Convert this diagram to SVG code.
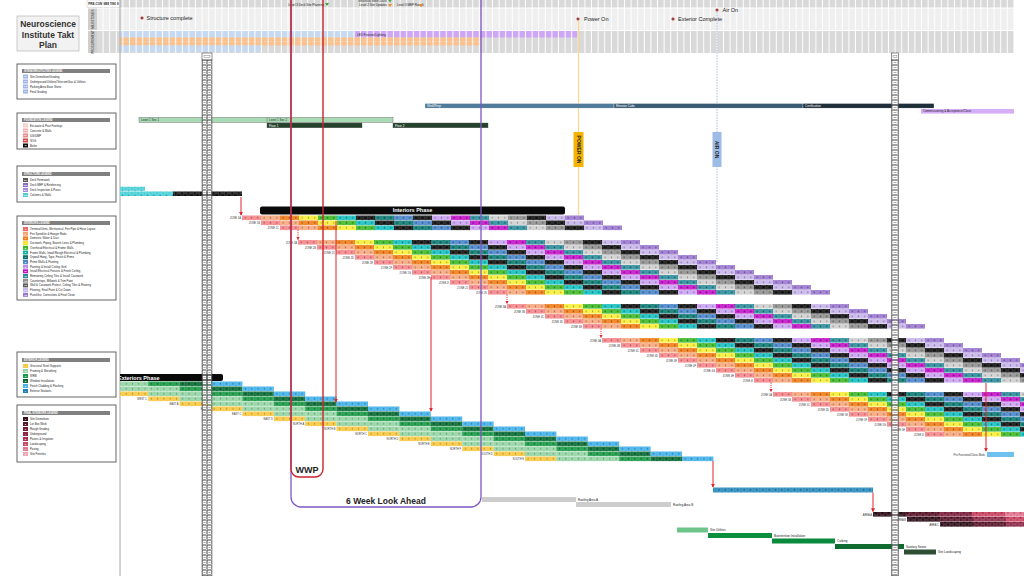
<svg xmlns="http://www.w3.org/2000/svg" width="1024" height="576" viewBox="0 0 1024 576">
<style>
text{font-family:'Liberation Sans',Arial,sans-serif}
.t3{font-size:3px;fill:#222}
.tw{font-size:3px;fill:#fff}
.zl{font-size:2.6px;fill:#333;text-anchor:end}
.ms{font-size:5.5px;fill:#222}
.lb{fill:#fff;stroke:#555;stroke-width:.9}
.lh{fill:#808080}
.lt{font-size:2.8px;fill:#222}
.lht{font-size:2.6px;fill:#fff;font-weight:bold}
.sq{font-size:2.4px;fill:#fff;text-anchor:middle;font-weight:bold}
.red{stroke:#e0262c;stroke-width:1;fill:none}
.rdot{stroke:#e0262c;stroke-width:.9;fill:none;stroke-dasharray:1.2 1}
.bar{stroke:#fff;stroke-width:.3}
</style>
<defs>
<pattern id="gp" x="97" y="0" width="6.6" height="60" patternUnits="userSpaceOnUse"><rect x="5.6" width="1" height="60" fill="#fff"/></pattern>
<pattern id="ps" width="6.333" height="4.6" patternUnits="userSpaceOnUse"><rect x=".9" y=".8" width="4.5" height="3" fill="none" stroke="#fff" stroke-opacity=".55" stroke-width=".35"/><rect x="2.7" y="1.5" width=".9" height="1.6" fill="#000" fill-opacity=".35"/></pattern>
<pattern id="pe" width="6.28" height="4.6" patternUnits="userSpaceOnUse"><rect x=".9" y=".8" width="4.4" height="3" fill="none" stroke="#fff" stroke-opacity=".5" stroke-width=".35"/><rect x="2.7" y="1.5" width=".9" height="1.6" fill="#000" fill-opacity=".3"/></pattern>
<pattern id="sc" x="202" y="60" width="5" height="5" patternUnits="userSpaceOnUse"><rect x=".4" y=".4" width="4.2" height="4.2" fill="#fff" stroke="#444" stroke-width=".5"/><rect x="1.4" y="2.2" width="2.2" height=".6" fill="#777"/></pattern>
<pattern id="sc2" x="891.5" y="60" width="7" height="5" patternUnits="userSpaceOnUse"><rect x=".4" y=".4" width="6.2" height="4.2" fill="#fff" stroke="#444" stroke-width=".5"/><rect x="2" y="2.2" width="3" height=".6" fill="#777"/></pattern>
<marker id="ah" viewBox="0 0 6 6" refX="5" refY="3" markerWidth="4" markerHeight="4" orient="auto"><path d="M0,0L6,3L0,6z" fill="#e0262c"/></marker>
<polygon id="star" points="0,-2.2 .7,-.7 2.2,0 .7,.7 0,2.2 -.7,.7 -2.2,0 -.7,-.7" fill="#9b2a2a"/>
<path id="tri" d="M-2,-1.6H2L0,1.6z"/>
<g id="ir">
<rect x="0" width="19" height="4.6" fill="#f4868a"/><rect x="19" width="19" height="4.6" fill="#f6a77e"/><rect x="38" width="19" height="4.6" fill="#ef7d1a"/><rect x="57" width="19" height="4.6" fill="#f7ee3a"/><rect x="76" width="19" height="4.6" fill="#3fb82a"/><rect x="95" width="19" height="4.6" fill="#17bfc0"/><rect x="114" width="19" height="4.6" fill="#111"/><rect x="133" width="19" height="4.6" fill="#0f7b73"/><rect x="152" width="19" height="4.6" fill="#4a86c9"/><rect x="171" width="19" height="4.6" fill="#111"/><rect x="190" width="19" height="4.6" fill="#c9a3f2"/><rect x="209" width="19" height="4.6" fill="#c114c6"/><rect x="228" width="19" height="4.6" fill="#2e8c9a"/><rect x="247" width="19" height="4.6" fill="#cfcfcf"/><rect x="266" width="19" height="4.6" fill="#8f8f8f"/><rect x="285" width="19" height="4.6" fill="#111"/><rect x="304" width="19" height="4.6" fill="#c7b5ea"/><rect x="323" width="19" height="4.6" fill="#9a78cf"/>
<rect width="342" height="4.6" fill="url(#ps)"/>
</g>
<g id="er">
<rect x="0" width="31.4" height="4.6" fill="#f8c843"/><rect x="31.4" width="31.4" height="4.6" fill="#95d5a5"/><rect x="62.8" width="31.4" height="4.6" fill="#95d5a5"/><rect x="94.2" width="31.4" height="4.6" fill="#1d9a48"/><rect x="125.6" width="31.4" height="4.6" fill="#0b6b35"/><rect x="157" width="31.4" height="4.6" fill="#45b2ea"/>
<rect width="188.4" height="4.6" fill="url(#pe)"/>
</g>
<clipPath id="cc"><rect x="120" y="0" width="904" height="576"/></clipPath>
</defs>
<rect width="1024" height="576" fill="#fff"/>

<g id="header">
<rect x="87" y="0" width="33" height="7.5" fill="#fff" stroke="#bbb" stroke-width=".4"/>
<text x="103.5" y="5" class="t3" text-anchor="middle" font-weight="bold" font-size="2.8">PRE-CON MEETINGS</text>
<rect x="120" y="0" width="894" height="7.5" fill="#d9d9d9"/>
<rect x="97" y="8.5" width="917" height="21.5" fill="#efefef"/>
<rect x="97" y="31" width="917" height="22" fill="#d9d9d9"/>
<rect x="120" y="31" width="235" height="6.5" fill="#c6d9f0"/>
<rect x="355" y="31" width="222" height="6.5" fill="#cda6f6"/>
<rect x="120" y="37.5" width="361" height="8" fill="#fac18f"/>
<line x1="120" y1="41.5" x2="481" y2="41.5" stroke="#fff" stroke-opacity=".6" stroke-width=".5" stroke-dasharray="1.5 1.5"/>
<rect x="120" y="45.5" width="140" height="6.5" fill="#c6d9f0"/>
<rect x="97" y="0" width="917" height="53" fill="url(#gp)"/>
<rect x="88" y="8.5" width="9" height="21.5" fill="#cfcfcf"/>
<rect x="88" y="31" width="9" height="22" fill="#cfcfcf"/>
<text transform="translate(93.5,19.2) rotate(-90)" class="t3" font-size="2.6" text-anchor="middle">MILESTONES</text>
<text transform="translate(93.5,42) rotate(-90)" class="t3" font-size="2.6" text-anchor="middle">PROCUREMENT</text>
<text x="357" y="35.8" class="t3" font-size="2.8">LED Fixtures/Lighting</text>
<text x="324" y="5.8" class="t3" font-size="2.8" text-anchor="end">Level 3 Deck Site Planning</text>
<use href="#tri" x="327" y="4.5" fill="#3aa83a"/>
<text x="387" y="1.8" class="t3" font-size="2.8" text-anchor="end">Structural Steel 100%</text>
<use href="#tri" x="390" y="1" fill="#3aa83a"/>
<text x="387" y="6.3" class="t3" font-size="2.8" text-anchor="end">Level 2 Site Updates</text>
<use href="#tri" x="390" y="5.5" fill="#f08a24"/>
<text x="397" y="6.3" class="t3" font-size="2.8">Level 3 MEP Rough</text>
<use href="#tri" x="421" y="5.5" fill="#f08a24"/>
<use href="#star" x="142" y="18"/>
<text x="146.5" y="20" class="ms">Structure complete</text>
<use href="#star" x="578" y="19"/>
<text x="584" y="21" class="ms">Power On</text>
<use href="#star" x="673" y="19"/>
<text x="678" y="21" class="ms">Exterior Complete</text>
<use href="#star" x="717" y="10"/>
<text x="722.5" y="12" class="ms">Air On</text>
</g>

<line x1="120" y1="0" x2="120" y2="576" stroke="#a6a6a6" stroke-width="1"/>

<g id="title">
<rect x="17" y="16" width="62" height="35" fill="#f2f2f2" stroke="#bfbfbf" stroke-width=".8"/>
<text x="48" y="27" text-anchor="middle" font-size="8.5" font-weight="bold" fill="#333">Neuroscience</text>
<text x="48" y="37.5" text-anchor="middle" font-size="8.5" font-weight="bold" fill="#333">Institute Takt</text>
<text x="48" y="47.5" text-anchor="middle" font-size="8.5" font-weight="bold" fill="#333">Plan</text>
</g>

<g id="legend-site">
<rect class="lb" x="17" y="64" width="99" height="35"/>
<rect class="lh" x="22" y="69" width="88" height="4"/><text class="lht" x="24" y="72">SITEWORK/UTILITIES LEGEND</text>
<rect x="23" y="74.5" width="5" height="4" fill="#9fb4ea"/><text class="sq" x="25.5" y="77.4">SG</text><text class="lt" x="30" y="77.5">Site Demolition/Grading</text>
<rect x="23" y="79.5" width="5" height="4" fill="#9fb4ea"/><text class="sq" x="25.5" y="82.4">UG</text><text class="lt" x="30" y="82.5">Underground Utilities/Telecom/Gas &amp; Utilities</text>
<rect x="23" y="84.5" width="5" height="4" fill="#9fb4ea"/><text class="sq" x="25.5" y="87.4">PB</text><text class="lt" x="30" y="87.5">Parking Area Base Stone</text>
<rect x="23" y="89.5" width="5" height="4" fill="#9fb4ea"/><text class="sq" x="25.5" y="92.4">FG</text><text class="lt" x="30" y="92.5">Final Grading</text>
</g>

<g id="legend-foundation">
<rect class="lb" x="17" y="113" width="99" height="36"/>
<rect class="lh" x="22" y="118" width="88" height="4"/><text class="lht" x="24" y="121">FOUNDATION LEGEND</text>
<rect x="23" y="123.5" width="5" height="4" fill="#f6cccc"/><text class="sq" x="25.5" y="126.4">FT</text><text class="lt" x="30" y="126.5">Excavate &amp; Pour Footings</text>
<rect x="23" y="128.5" width="5" height="4" fill="#f0b0b0"/><text class="sq" x="25.5" y="131.4">CW</text><text class="lt" x="30" y="131.5">Concrete &amp; Walls</text>
<rect x="23" y="133.5" width="5" height="4" fill="#e88a8a"/><text class="sq" x="25.5" y="136.4">UG</text><text class="lt" x="30" y="136.5">UG/UMP</text>
<rect x="23" y="138.5" width="5" height="4" fill="#d94848"/><text class="sq" x="25.5" y="141.4">SG</text><text class="lt" x="30" y="141.5">SOG</text>
<rect x="23" y="143.5" width="5" height="4" fill="#111"/><text class="sq" x="25.5" y="146.4">B</text><text class="lt" x="30" y="146.5">Boiler</text>
</g>

<g id="legend-structure">
<rect class="lb" x="17" y="166" width="99" height="36"/>
<rect class="lh" x="22" y="172" width="88" height="4"/><text class="lht" x="24" y="175">STRUCTURE LEGEND</text>
<rect x="23" y="178" width="5" height="4" fill="#5a5a5a"/><text class="sq" x="25.5" y="180.9">DF</text><text class="lt" x="30" y="181">Deck Formwork</text>
<rect x="23" y="183" width="5" height="4" fill="#8c6cc8"/><text class="sq" x="25.5" y="185.9">DM</text><text class="lt" x="30" y="186">Deck MEP &amp; Reinforcing</text>
<rect x="23" y="188" width="5" height="4" fill="#a98ddc"/><text class="sq" x="25.5" y="190.9">DP</text><text class="lt" x="30" y="191">Deck Inspection &amp; Pours</text>
<rect x="23" y="193" width="5" height="4" fill="#4ccdd2"/><text class="sq" x="25.5" y="195.9">CW</text><text class="lt" x="30" y="196">Columns &amp; Walls</text>
</g>

<g id="legend-interiors">
<rect class="lb" x="17" y="216" width="99" height="84"/>
<rect class="lh" x="22" y="221" width="88" height="4"/><text class="lht" x="24" y="224">INTERIORS LEGEND</text>
<rect x="23" y="227" width="5" height="4" fill="#f06a6a"/><text class="sq" x="25.5" y="229.9">1</text><text class="lt" x="30" y="230">Terminal Units, Mechanical, Fire Pipe &amp; Hose Layout</text>
<rect x="23" y="231.7" width="5" height="4" fill="#f5a070"/><text class="sq" x="25.5" y="234.6">2</text><text class="lt" x="30" y="234.7">Fire Sprinkler &amp; Hanger Rods</text>
<rect x="23" y="236.4" width="5" height="4" fill="#ef7d1a"/><text class="sq" x="25.5" y="239.3">3</text><text class="lt" x="30" y="239.4">Domestic Water &amp; Duct</text>
<rect x="23" y="241.1" width="5" height="4" fill="#f5e52a"/><text class="sq" x="25.5" y="244" fill="#333">4</text><text class="lt" x="30" y="244.1">Ductwork, Piping, Branch Lines &amp; Plumbing</text>
<rect x="23" y="245.8" width="5" height="4" fill="#3fb82a"/><text class="sq" x="25.5" y="248.7">5</text><text class="lt" x="30" y="248.8">Overhead Electrical &amp; Frame Walls</text>
<rect x="23" y="250.5" width="5" height="4" fill="#12b5a0"/><text class="sq" x="25.5" y="253.4">6</text><text class="lt" x="30" y="253.5">Frame Walls, Inwall Rough Electrical &amp; Plumbing</text>
<rect x="23" y="255.2" width="5" height="4" fill="#0f6f6a"/><text class="sq" x="25.5" y="258.1">7</text><text class="lt" x="30" y="258.2">Drywall Hang, Tape, Finish &amp; Prime</text>
<rect x="23" y="259.9" width="5" height="4" fill="#4a86c9"/><text class="sq" x="25.5" y="262.8">8</text><text class="lt" x="30" y="262.9">Prime Walls &amp; Painting</text>
<rect x="23" y="264.6" width="5" height="4" fill="#b491e6"/><text class="sq" x="25.5" y="267.5">9</text><text class="lt" x="30" y="267.6">Painting &amp; Install Ceiling Grid</text>
<rect x="23" y="269.3" width="5" height="4" fill="#c114c6"/><text class="sq" x="25.5" y="272.2">10</text><text class="lt" x="30" y="272.3">Install Electrical Fixtures &amp; Finish Ceiling</text>
<rect x="23" y="274" width="5" height="4" fill="#2e8c9a"/><text class="sq" x="25.5" y="276.9">11</text><text class="lt" x="30" y="277">Remaining Ceiling Tiles &amp; Install Casework</text>
<rect x="23" y="278.7" width="5" height="4" fill="#8f8f8f"/><text class="sq" x="25.5" y="281.6">12</text><text class="lt" x="30" y="281.7">Countertops, Millwork &amp; Trim Paint</text>
<rect x="23" y="283.4" width="5" height="4" fill="#5c5c5c"/><text class="sq" x="25.5" y="286.3">13</text><text class="lt" x="30" y="286.4">Wall &amp; Casework Protect, Ceiling Tiles &amp; Flooring</text>
<rect x="23" y="288.1" width="5" height="4" fill="#c7b5ea"/><text class="sq" x="25.5" y="291">14</text><text class="lt" x="30" y="291.1">Flooring, Final Paint &amp; Cut Down</text>
<rect x="23" y="292.8" width="5" height="4" fill="#9a78cf"/><text class="sq" x="25.5" y="295.7">15</text><text class="lt" x="30" y="295.8">Punchlist, Corrections &amp; Final Clean</text>
</g>

<g id="legend-exterior">
<rect class="lb" x="17" y="352" width="99" height="45"/>
<rect class="lh" x="22" y="358" width="88" height="4"/><text class="lht" x="24" y="361">EXTERIOR LEGEND</text>
<rect x="23" y="364" width="5" height="4" fill="#f8c843"/><text class="sq" x="25.5" y="366.9" fill="#333">A</text><text class="lt" x="30" y="367">Structural Steel Supports</text>
<rect x="23" y="369" width="5" height="4" fill="#95d5a5"/><text class="sq" x="25.5" y="371.9" fill="#333">B</text><text class="lt" x="30" y="372">Framing &amp; Sheathing</text>
<rect x="23" y="374" width="5" height="4" fill="#1d9a48"/><text class="sq" x="25.5" y="376.9">C</text><text class="lt" x="30" y="377">WRB</text>
<rect x="23" y="379" width="5" height="4" fill="#0b6b35"/><text class="sq" x="25.5" y="381.9">D</text><text class="lt" x="30" y="382">Window Installation</text>
<rect x="23" y="384" width="5" height="4" fill="#45b2ea"/><text class="sq" x="25.5" y="386.9">E</text><text class="lt" x="30" y="387">Finish Cladding &amp; Flashing</text>
<rect x="23" y="389" width="5" height="4" fill="#1f7fb4"/><text class="sq" x="25.5" y="391.9">F</text><text class="lt" x="30" y="392">Exterior Sealants</text>
</g>

<g id="legend-sitefinal">
<rect class="lb" x="17" y="405" width="99" height="57"/>
<rect class="lh" x="22" y="411" width="88" height="4"/><text class="lht" x="24" y="414">FINAL SITEWORK LEGEND</text>
<rect x="23" y="417" width="5" height="4" fill="#3a0c1a"/><text class="sq" x="25.5" y="419.9">1</text><text class="lt" x="30" y="420">Site Demolition</text>
<rect x="23" y="422" width="5" height="4" fill="#561427"/><text class="sq" x="25.5" y="424.9">2</text><text class="lt" x="30" y="425">Lot Box Work</text>
<rect x="23" y="427" width="5" height="4" fill="#741c37"/><text class="sq" x="25.5" y="429.9">3</text><text class="lt" x="30" y="430">Rough Grading</text>
<rect x="23" y="432" width="5" height="4" fill="#8c2444"/><text class="sq" x="25.5" y="434.9">4</text><text class="lt" x="30" y="435">Underground</text>
<rect x="23" y="437" width="5" height="4" fill="#a83050"/><text class="sq" x="25.5" y="439.9">5</text><text class="lt" x="30" y="440">Pavers &amp; Irrigation</text>
<rect x="23" y="442" width="5" height="4" fill="#c84868"/><text class="sq" x="25.5" y="444.9">6</text><text class="lt" x="30" y="445">Landscaping</text>
<rect x="23" y="447" width="5" height="4" fill="#e07890"/><text class="sq" x="25.5" y="449.9">7</text><text class="lt" x="30" y="450">Paving</text>
<rect x="23" y="452" width="5" height="4" fill="#f0a4b4"/><text class="sq" x="25.5" y="454.9">8</text><text class="lt" x="30" y="455">Site Finishes</text>
</g>

<g id="milestone-lines">
<line x1="578.5" y1="21" x2="578.5" y2="215" stroke="#fbd88a" stroke-width="1.2"/>
<line x1="717" y1="12" x2="717" y2="263" stroke="#9ab8e0" stroke-width=".9" stroke-dasharray="1.5 1.2"/>
<rect x="573.5" y="132" width="10" height="35" fill="#f5b400"/>
<text transform="translate(578.5,149.5) rotate(90)" text-anchor="middle" dy="1.8" font-size="5" font-weight="bold" fill="#222">POWER ON</text>
<rect x="712.5" y="132" width="9" height="35" fill="#9dbde6"/>
<text transform="translate(717,149.5) rotate(90)" text-anchor="middle" dy="1.8" font-size="5" font-weight="bold" fill="#222">AIR ON</text>
</g>

<g id="chart" clip-path="url(#cc)">
<g id="shell-bars">
<rect x="425" y="103.5" width="189" height="4.6" fill="#4f7a99" class="bar"/>
<rect x="614" y="103.5" width="189" height="4.6" fill="#385a73" class="bar"/>
<rect x="803" y="103.5" width="131" height="4.6" fill="#1f2f3a" class="bar"/>
<text x="427" y="106.9" class="tw">Shell/Prep</text>
<text x="616" y="106.9" class="tw">Elevator Cabs</text>
<text x="805" y="106.9" class="tw">Certification</text>
<rect x="921" y="109" width="93" height="4.6" fill="#d6adf7"/>
<text x="923" y="112.4" class="t3">Commissioning &amp; Acceptance/Close</text>
<rect x="139" y="117.5" width="254" height="4.8" fill="#a9dcb5" stroke="#555" stroke-width=".4"/>
<line x1="267" y1="117.5" x2="267" y2="122.3" stroke="#555" stroke-width=".4"/>
<text x="141" y="121" class="t3">Level 1 Sec 1</text>
<text x="269" y="121" class="t3">Level 1 Sec 2</text>
<rect x="267" y="123" width="95" height="4.8" fill="#25432c" stroke="#555" stroke-width=".4"/>
<rect x="393" y="123" width="95" height="4.8" fill="#25432c" stroke="#555" stroke-width=".4"/>
<text x="269" y="126.5" class="tw">Floor 1</text>
<text x="395" y="126.5" class="tw">Floor 2</text>
</g>

<g id="structure-rows">
<rect x="120" y="186.8" width="25" height="4" fill="#46cfd6"/>
<rect x="120" y="186.8" width="25" height="4" fill="url(#pe)"/>
<rect x="120" y="191.5" width="53" height="4.5" fill="#46cfd6"/>
<rect x="173" y="191.5" width="69" height="4.5" fill="#111"/>
<rect x="120" y="191.5" width="122" height="4.5" fill="url(#pe)"/>
</g>

<g id="interiors-phase">
<rect x="260" y="206.5" width="305" height="8" rx="2" fill="#0a0a0a"/>
<text x="412.5" y="212.4" text-anchor="middle" font-size="5.5" font-weight="bold" fill="#fff">Interiors Phase</text>
</g>

<g id="interior-zone1">
<use href="#ir" x="242" y="215.5"/><text class="zl" x="241" y="219">ZONE 1A</text>
<use href="#ir" x="261" y="220.5"/><text class="zl" x="260" y="224">ZONE 1B</text>
<use href="#ir" x="280" y="225.5"/><text class="zl" x="279" y="229">ZONE 1C</text>
</g>
<g id="interior-zone2">
<use href="#ir" x="298" y="240"/><text class="zl" x="297" y="243.5">ZONE 2A</text>
<use href="#ir" x="317" y="245"/><text class="zl" x="316" y="248.5">ZONE 2B</text>
<use href="#ir" x="336" y="250"/><text class="zl" x="335" y="253.5">ZONE 2C</text>
<use href="#ir" x="355" y="255"/><text class="zl" x="354" y="258.5">ZONE 2D</text>
<use href="#ir" x="374" y="260"/><text class="zl" x="373" y="263.5">ZONE 2E</text>
<use href="#ir" x="393" y="265"/><text class="zl" x="392" y="268.5">ZONE 2F</text>
<use href="#ir" x="412" y="270"/><text class="zl" x="411" y="273.5">ZONE 2G</text>
<use href="#ir" x="431" y="275"/><text class="zl" x="430" y="278.5">ZONE 2H</text>
<use href="#ir" x="450" y="280"/><text class="zl" x="449" y="283.5">ZONE 2I</text>
<use href="#ir" x="469" y="285"/><text class="zl" x="468" y="288.5">ZONE 2J</text>
<use href="#ir" x="488" y="290"/><text class="zl" x="487" y="293.5">ZONE 2K</text>
</g>
<g id="interior-zone3">
<use href="#ir" x="507" y="304"/><text class="zl" x="506" y="307.5">ZONE 3A</text>
<use href="#ir" x="526" y="309"/><text class="zl" x="525" y="312.5">ZONE 3B</text>
<use href="#ir" x="545" y="314"/><text class="zl" x="544" y="317.5">ZONE 3C</text>
<use href="#ir" x="564" y="319"/><text class="zl" x="563" y="322.5">ZONE 3D</text>
<use href="#ir" x="583" y="324"/><text class="zl" x="582" y="327.5">ZONE 3E</text>
</g>
<g id="interior-zone4">
<use href="#ir" x="602" y="338"/><text class="zl" x="601" y="341.5">ZONE 4A</text>
<use href="#ir" x="621" y="343"/><text class="zl" x="620" y="346.5">ZONE 4B</text>
<use href="#ir" x="640" y="348"/><text class="zl" x="639" y="351.5">ZONE 4C</text>
<use href="#ir" x="659" y="353"/><text class="zl" x="658" y="356.5">ZONE 4D</text>
<use href="#ir" x="678" y="358"/><text class="zl" x="677" y="361.5">ZONE 4E</text>
<use href="#ir" x="697" y="363"/><text class="zl" x="696" y="366.5">ZONE 4F</text>
<use href="#ir" x="716" y="368"/><text class="zl" x="715" y="371.5">ZONE 4G</text>
<use href="#ir" x="735" y="373"/><text class="zl" x="734" y="376.5">ZONE 4H</text>
<use href="#ir" x="754" y="378"/><text class="zl" x="753" y="381.5">ZONE 4I</text>
</g>
<g id="interior-zone5">
<use href="#ir" x="773" y="392"/><text class="zl" x="772" y="395.5">ZONE 5A</text>
<use href="#ir" x="792" y="397"/><text class="zl" x="791" y="400.5">ZONE 5B</text>
<use href="#ir" x="811" y="402"/><text class="zl" x="810" y="405.5">ZONE 5C</text>
<use href="#ir" x="830" y="407"/><text class="zl" x="829" y="410.5">ZONE 5D</text>
<use href="#ir" x="849" y="412"/><text class="zl" x="848" y="415.5">ZONE 5E</text>
<use href="#ir" x="868" y="417"/><text class="zl" x="867" y="420.5">ZONE 5F</text>
<use href="#ir" x="887" y="422"/><text class="zl" x="886" y="425.5">ZONE 5G</text>
<use href="#ir" x="906" y="427"/><text class="zl" x="905" y="430.5">ZONE 5H</text>
<use href="#ir" x="925" y="432"/><text class="zl" x="924" y="435.5">ZONE 5I</text>
</g>

<g id="exteriors-phase">
<rect x="110" y="374" width="113" height="7" rx="2" fill="#0a0a0a"/>
<text x="118" y="379.8" font-size="5.5" font-weight="bold" fill="#fff">Exteriors Phase</text>
</g>
<g id="exterior-rows">
<use href="#er" x="54" y="381.5"/>
<use href="#er" x="85.4" y="386.5"/>
<use href="#er" x="116.8" y="391.5"/>
<use href="#er" x="148.2" y="396.5"/><text class="zl" x="147" y="400">WEST C</text>
<use href="#er" x="179.6" y="401.5"/><text class="zl" x="178.5" y="405">EAST A</text>
<use href="#er" x="211" y="406.5"/><text class="zl" x="210" y="410">EAST B</text>
<use href="#er" x="242.4" y="411.5"/><text class="zl" x="241.4" y="415">EAST C</text>
<use href="#er" x="273.8" y="416.5"/><text class="zl" x="272.8" y="420">EAST D</text>
<use href="#er" x="305.2" y="421.5"/><text class="zl" x="304.2" y="425">NORTH A</text>
<use href="#er" x="336.6" y="426.5"/><text class="zl" x="335.6" y="430">NORTH B</text>
<use href="#er" x="368" y="431.5"/><text class="zl" x="367" y="435">NORTH C</text>
<use href="#er" x="399.4" y="436.5"/><text class="zl" x="398.4" y="440">NORTH D</text>
<use href="#er" x="430.8" y="441.5"/><text class="zl" x="429.8" y="445">NORTH E</text>
<use href="#er" x="462.2" y="446.5"/><text class="zl" x="461.2" y="450">NORTH F</text>
<use href="#er" x="493.6" y="451.5"/><text class="zl" x="492.6" y="455">SOUTH D</text>
<use href="#er" x="525" y="456.5"/><text class="zl" x="524" y="460">SOUTH E</text>
</g>

<g id="envelope-bars">
<rect x="713" y="487.5" width="160" height="5" fill="#2a8bbd"/>
<rect x="713" y="487.5" width="160" height="5" fill="url(#pe)"/>
<rect x="987" y="452" width="27" height="5" fill="#6ec1ee"/>
<text x="985" y="455.6" class="zl">Pre-Functional/Close-Mods</text>
<rect x="482" y="497" width="94" height="5" fill="#cdcdcd"/>
<text x="578" y="500.6" class="t3" font-size="2.8">Roofing Area A</text>
<rect x="576" y="502" width="95" height="5" fill="#cdcdcd"/>
<text x="673" y="505.6" class="t3" font-size="2.8">Roofing Area B</text>
</g>

<g id="site-rows">
<rect x="873" y="512" width="33" height="4.6" fill="#2b0b16"/><rect x="906" y="512" width="33" height="4.6" fill="#561327"/><rect x="939" y="512" width="33" height="4.6" fill="#7c1f3d"/><rect x="972" y="512" width="33" height="4.6" fill="#c8405f"/><rect x="1005" y="512" width="33" height="4.6" fill="#e2728c"/>
<rect x="873" y="512" width="151" height="4.6" fill="url(#pe)"/>
<text class="zl" x="872" y="515.5">AREA A</text>
<rect x="907" y="517" width="33" height="4.6" fill="#2b0b16"/><rect x="940" y="517" width="33" height="4.6" fill="#561327"/><rect x="973" y="517" width="33" height="4.6" fill="#8c2846"/><rect x="1006" y="517" width="33" height="4.6" fill="#c8405f"/>
<rect x="907" y="517" width="117" height="4.6" fill="url(#pe)"/>
<text class="zl" x="906" y="520.5">AREA B</text>
<rect x="940" y="522" width="33" height="4.6" fill="#2b0b16"/><rect x="973" y="522" width="33" height="4.6" fill="#561327"/><rect x="1006" y="522" width="33" height="4.6" fill="#8c2846"/>
<rect x="940" y="522" width="84" height="4.6" fill="url(#pe)"/>
<text class="zl" x="939" y="525.5">AREA C</text>
</g>

<g id="sitework-bars">
<rect x="677" y="527.5" width="31" height="5" fill="#6cc48a"/>
<text x="710" y="531" class="t3" font-size="2.8">Site Utilities</text>
<rect x="708" y="533" width="64" height="5" fill="#0b8f3e"/>
<text x="774" y="536.5" class="t3" font-size="2.8">Bioretention Installation</text>
<rect x="772" y="538.5" width="63" height="5" fill="#0a8a3c"/>
<text x="837" y="542" class="t3" font-size="2.8">Curbing</text>
<rect x="835" y="544" width="69" height="5" fill="#0f6b30"/>
<text x="906" y="547.5" class="t3" font-size="2.8">Sanitary Sewer</text>
<rect x="904" y="549.5" width="32" height="5" fill="#2f4f34"/>
<text x="938" y="553" class="t3" font-size="2.8">Site Landscaping</text>
</g>
</g>

<g id="grid-strips">
<rect x="202" y="53" width="10" height="7" fill="#fff" stroke="#444" stroke-width=".6"/>
<rect x="204" y="55.5" width="6" height="2" fill="none" stroke="#666" stroke-width=".4"/>
<rect x="202" y="60" width="10" height="516" fill="url(#sc)"/>
<rect x="202" y="60" width="10" height="516" fill="none" stroke="#444" stroke-width=".5"/>
<rect x="891.5" y="53" width="7" height="7" fill="#fff" stroke="#444" stroke-width=".6"/>
<rect x="893" y="55.5" width="4" height="2" fill="none" stroke="#666" stroke-width=".4"/>
<rect x="891.5" y="60" width="7" height="516" fill="url(#sc2)"/>
<rect x="891.5" y="60" width="7" height="516" fill="none" stroke="#444" stroke-width=".5"/>
</g>

<g id="connectors">
<line class="red" x1="241" y1="197" x2="241" y2="215" marker-end="url(#ah)"/>
<line class="red" x1="336" y1="221" x2="336" y2="402" marker-end="url(#ah)"/>
<line class="red" x1="431" y1="277" x2="431" y2="411" marker-end="url(#ah)"/>
<line class="red" x1="986" y1="383" x2="986" y2="451" marker-end="url(#ah)"/>
<line class="red" x1="713" y1="461" x2="713" y2="487" marker-end="url(#ah)"/>
<line class="red" x1="873" y1="492.5" x2="873" y2="511.5" marker-end="url(#ah)"/>
<line class="rdot" x1="298" y1="230" x2="298" y2="239.5" marker-end="url(#ah)"/>
<line class="rdot" x1="507" y1="294.6" x2="507" y2="303.5" marker-end="url(#ah)"/>
<line class="rdot" x1="601" y1="328.6" x2="601" y2="337.5" marker-end="url(#ah)"/>
<line class="rdot" x1="771" y1="382.6" x2="771" y2="391.5" marker-end="url(#ah)"/>
</g>

<g id="lookahead">
<rect x="291" y="-20" width="190" height="527" rx="10" fill="none" stroke="#7e57c2" stroke-width="1.3"/>
<text x="386" y="504" text-anchor="middle" font-size="8.5" font-weight="bold" fill="#222">6 Week Look Ahead</text>
</g>
<g id="wwp">
<rect x="291" y="-20" width="32" height="497" rx="8" fill="none" stroke="#c8262c" stroke-width="1.4"/>
<text x="307" y="473" text-anchor="middle" font-size="9" font-weight="bold" fill="#222">WWP</text>
</g>
</svg>
